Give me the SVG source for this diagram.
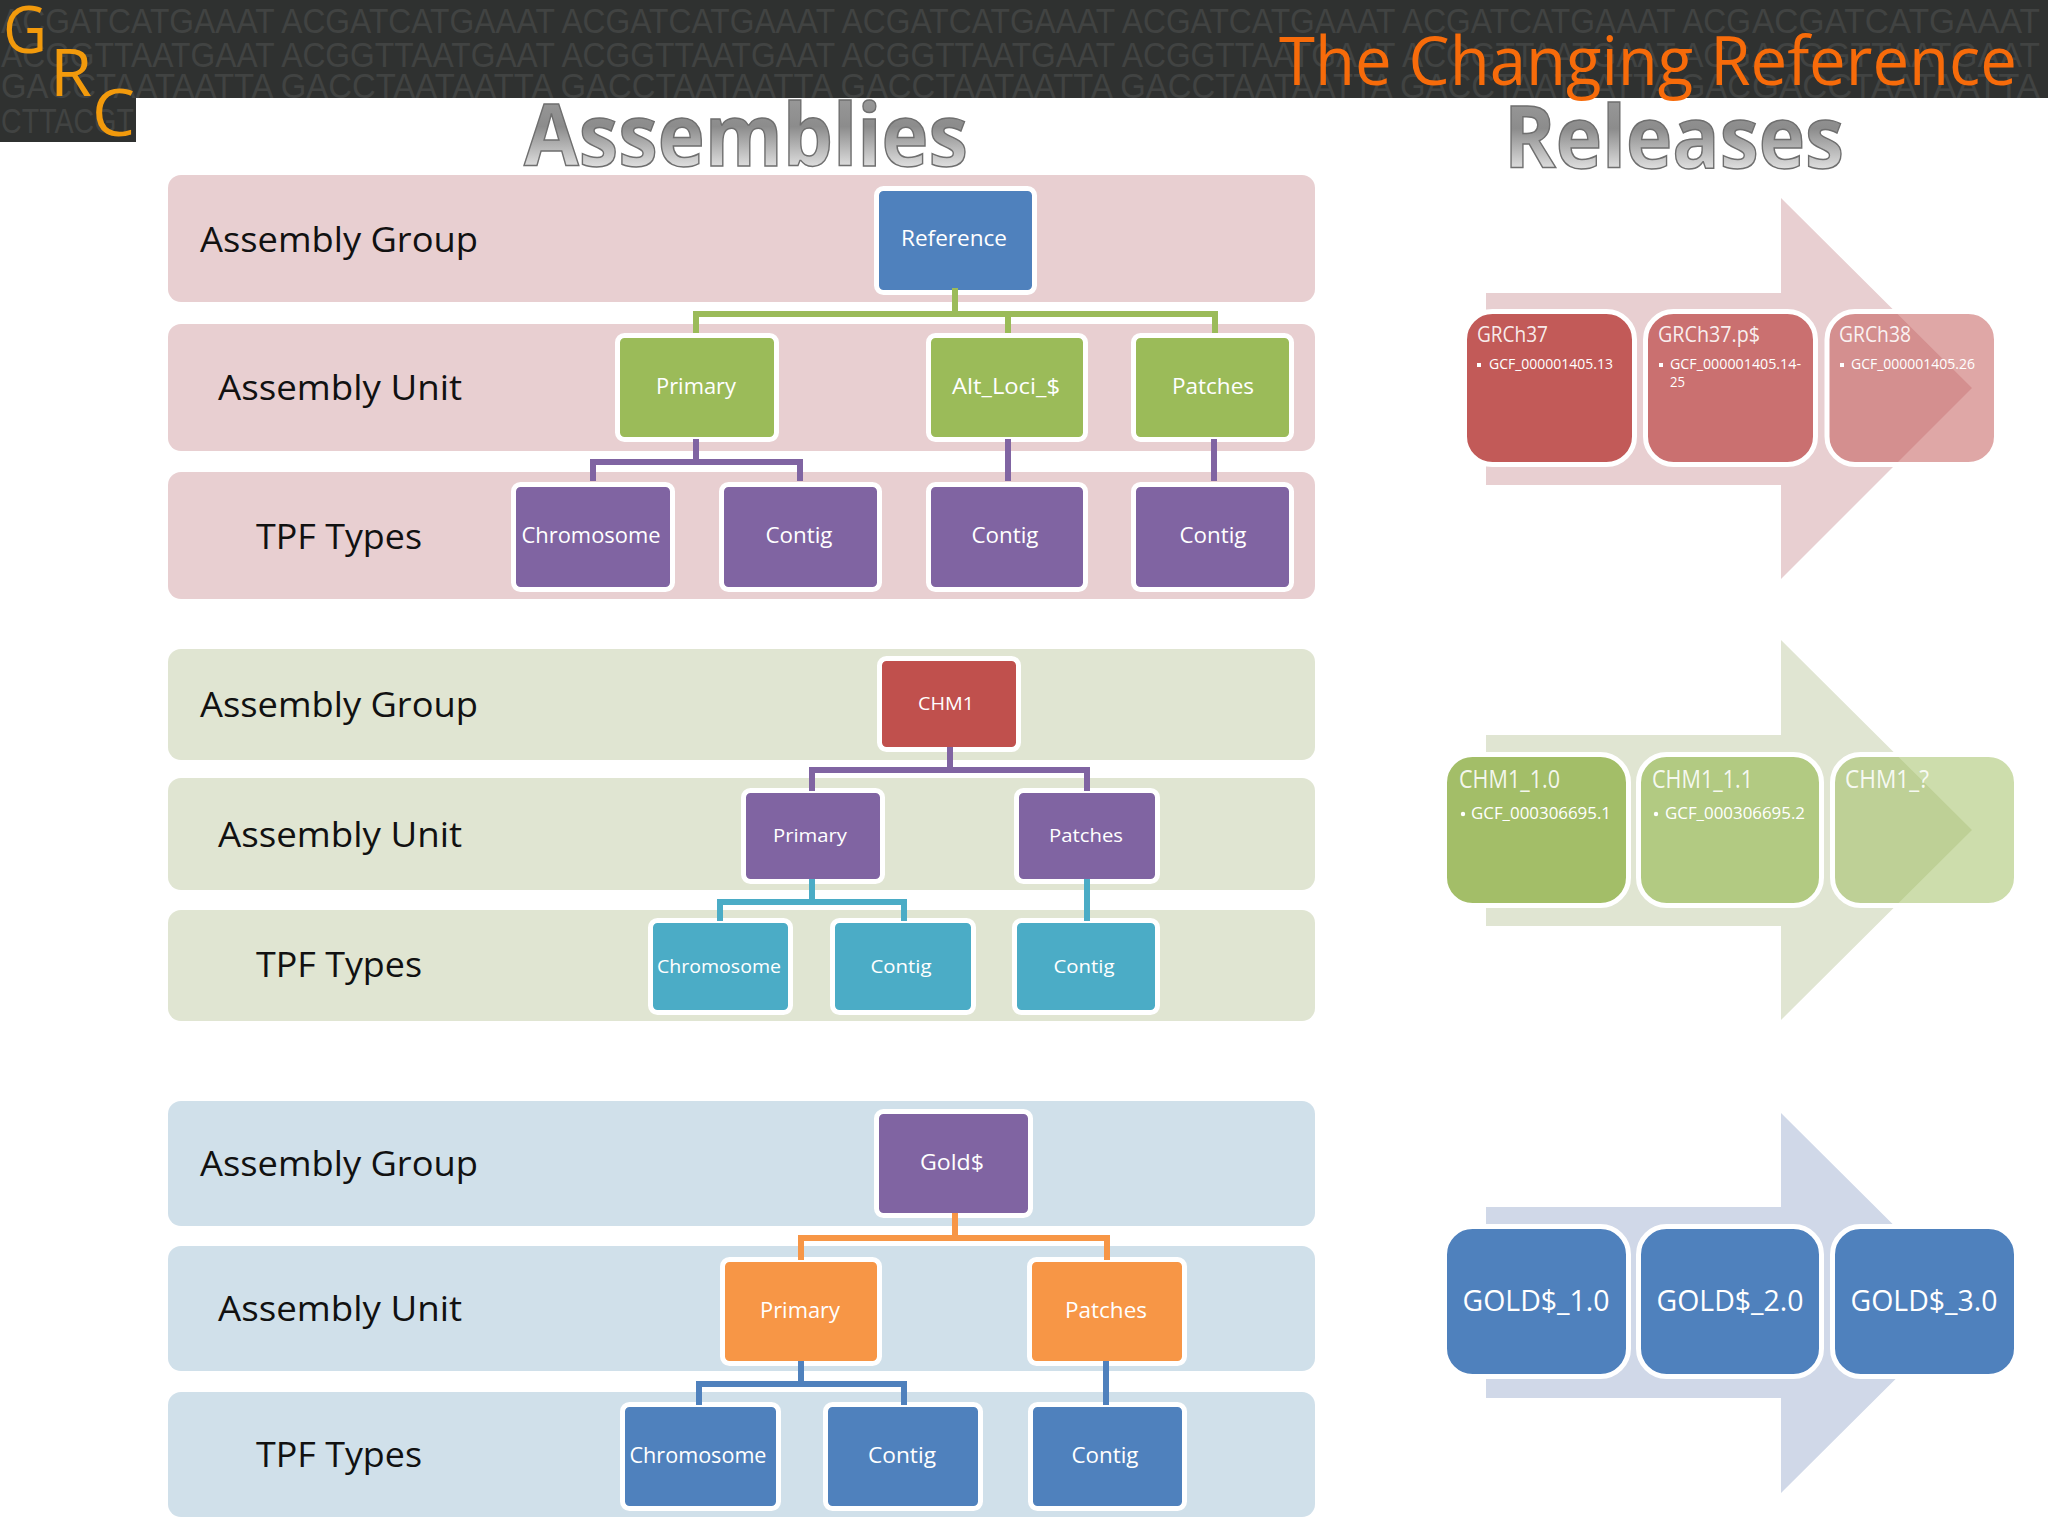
<svg xmlns="http://www.w3.org/2000/svg" width="2048" height="1536" viewBox="0 0 2048 1536">
<defs>
<linearGradient id="chrome" x1="0" y1="0" x2="0" y2="1"><stop offset="0" stop-color="#a2a2a2"/><stop offset="0.45" stop-color="#8c8c8c"/><stop offset="0.8" stop-color="#e0e0e0"/><stop offset="1" stop-color="#f6f6f6"/></linearGradient>
<clipPath id="hdr"><path d="M0 0H2048V98H136V142H0Z"/></clipPath>
</defs>
<style>
text{font-family:"Open Sans","Liberation Sans",sans-serif}
.dna{font-family:"Liberation Sans",Arial,sans-serif;font-size:35px;fill:#414342}
.logo{font-size:66px;fill:#f29a0c}
.title{font-size:68px;fill:#f76b0a}
.big{font-size:86px;font-weight:700;fill:url(#chrome);stroke:#6f6f6f;stroke-width:1.5px}
.band{rx:13px}
.p{fill:#e8cfd1}.g{fill:#e0e5d2}.b{fill:#d0e0ea}
.rl{font-size:35px;fill:#111}
.n{stroke:#fff;stroke-width:5px}
.nt{fill:#fff;font-size:22px;text-anchor:middle}
.nts{fill:#fff;font-size:19px;text-anchor:middle}
.blue{fill:#4f81bd}.green{fill:#9bbb59}.purple{fill:#8064a2}.red{fill:#c0504d}.teal{fill:#4bacc6}.orange{fill:#f79646}
.c{fill:none;stroke-width:6px}
.cg{stroke:#9bbb59}.cp{stroke:#8064a2}.ct{stroke:#4bacc6}.co{stroke:#f79646}.cb{stroke:#4f81bd}
.rel{stroke:#fff;stroke-width:5px}
.rh{fill:#fff;fill-opacity:.9;font-size:21px}
.rs{fill:#fff;font-size:14px}
.rhg{fill:#fff;fill-opacity:.9;font-size:25px}
.rsg{fill:#fff;font-size:17px}
.gold{fill:#fff;font-size:29px;text-anchor:middle}
</style>

<rect width="2048" height="1536" fill="#fff"/>

<g id="header">
<path d="M0 0H2048V98H136V142H0Z" fill="#2f3130"/>
<g clip-path="url(#hdr)">
<text class="dna" x="1" y="33" textLength="1750" lengthAdjust="spacingAndGlyphs">ACGATCATGAAAT ACGATCATGAAAT ACGATCATGAAAT ACGATCATGAAAT ACGATCATGAAAT ACGATCATGAAAT ACG</text>
<text class="dna" x="1752" y="33" textLength="288" lengthAdjust="spacingAndGlyphs">ACGATCATGAAAT</text>
<text class="dna" x="1" y="67" textLength="1750" lengthAdjust="spacingAndGlyphs">ACGGTTAATGAAT ACGGTTAATGAAT ACGGTTAATGAAT ACGGTTAATGAAT ACGGTTAATGAAT ACGGTTAATGAAT ACG</text>
<text class="dna" x="1752" y="67" textLength="288" lengthAdjust="spacingAndGlyphs">ACGGTTAATGAAT</text>
<text class="dna" x="1" y="98" textLength="1750" lengthAdjust="spacingAndGlyphs">GACCTAATAATTA GACCTAATAATTA GACCTAATAATTA GACCTAATAATTA GACCTAATAATTA GACCTAATAATTA GAC</text>
<text class="dna" x="1752" y="98" textLength="288" lengthAdjust="spacingAndGlyphs">GACCTAATAATTA</text>
<text class="dna" x="1" y="133" textLength="133" lengthAdjust="spacingAndGlyphs">CTTACGT</text>
</g>
<text class="logo" x="3" y="53" textLength="44" lengthAdjust="spacingAndGlyphs">G</text>
<text class="logo" x="50" y="96" textLength="42" lengthAdjust="spacingAndGlyphs">R</text>
<text class="logo" x="92" y="136" textLength="43" lengthAdjust="spacingAndGlyphs">C</text>
<text class="title" x="1279" y="85" textLength="738" lengthAdjust="spacingAndGlyphs">The Changing Reference</text>
</g>

<text class="big" x="524" y="166" textLength="444" lengthAdjust="spacingAndGlyphs">Assemblies</text>
<text class="big" x="1504" y="168" textLength="340" lengthAdjust="spacingAndGlyphs">Releases</text>

<g id="bands">
<rect class="band p" x="168" y="175" width="1147" height="127"/>
<rect class="band p" x="168" y="324" width="1147" height="127"/>
<rect class="band p" x="168" y="472" width="1147" height="127"/>
<rect class="band g" x="168" y="649" width="1147" height="111"/>
<rect class="band g" x="168" y="778" width="1147" height="112"/>
<rect class="band g" x="168" y="910" width="1147" height="111"/>
<rect class="band b" x="168" y="1101" width="1147" height="125"/>
<rect class="band b" x="168" y="1246" width="1147" height="125"/>
<rect class="band b" x="168" y="1392" width="1147" height="125"/>
<text class="rl" x="200" y="252" textLength="278" lengthAdjust="spacingAndGlyphs">Assembly Group</text>
<text class="rl" x="218" y="400" textLength="244" lengthAdjust="spacingAndGlyphs">Assembly Unit</text>
<text class="rl" x="256" y="549" textLength="166" lengthAdjust="spacingAndGlyphs">TPF Types</text>
<text class="rl" x="200" y="717" textLength="278" lengthAdjust="spacingAndGlyphs">Assembly Group</text>
<text class="rl" x="218" y="847" textLength="244" lengthAdjust="spacingAndGlyphs">Assembly Unit</text>
<text class="rl" x="256" y="977" textLength="166" lengthAdjust="spacingAndGlyphs">TPF Types</text>
<text class="rl" x="200" y="1176" textLength="278" lengthAdjust="spacingAndGlyphs">Assembly Group</text>
<text class="rl" x="218" y="1321" textLength="244" lengthAdjust="spacingAndGlyphs">Assembly Unit</text>
<text class="rl" x="256" y="1467" textLength="166" lengthAdjust="spacingAndGlyphs">TPF Types</text>
</g>

<g id="n-reference"><rect class="n blue" x="876.500" y="188.500" width="158" height="104" rx="7"/><text class="nt" x="954" y="246" textLength="106" lengthAdjust="spacingAndGlyphs">Reference</text></g>
<g id="n-primary1"><rect class="n green" x="617.500" y="335.500" width="159" height="104" rx="7"/><text class="nt" x="696" y="394" textLength="80" lengthAdjust="spacingAndGlyphs">Primary</text></g>
<g id="n-altloci"><rect class="n green" x="928.500" y="335.500" width="157" height="104" rx="7"/><text class="nt" x="1006" y="394" textLength="108" lengthAdjust="spacingAndGlyphs">Alt_Loci_$</text></g>
<g id="n-patches1"><rect class="n green" x="1133.500" y="335.500" width="158" height="104" rx="7"/><text class="nt" x="1213" y="394" textLength="82" lengthAdjust="spacingAndGlyphs">Patches</text></g>
<g id="n-chrom1"><rect class="n purple" x="513.500" y="484.500" width="159" height="105" rx="7"/><text class="nt" x="591" y="543" textLength="139" lengthAdjust="spacingAndGlyphs">Chromosome</text></g>
<g id="n-contig1a"><rect class="n purple" x="721.500" y="484.500" width="158" height="105" rx="7"/><text class="nt" x="799" y="543" textLength="67" lengthAdjust="spacingAndGlyphs">Contig</text></g>
<g id="n-contig1b"><rect class="n purple" x="928.500" y="484.500" width="157" height="105" rx="7"/><text class="nt" x="1005" y="543" textLength="67" lengthAdjust="spacingAndGlyphs">Contig</text></g>
<g id="n-contig1c"><rect class="n purple" x="1133.500" y="484.500" width="158" height="105" rx="7"/><text class="nt" x="1213" y="543" textLength="67" lengthAdjust="spacingAndGlyphs">Contig</text></g>

<g id="n-chm1"><rect class="n red" x="879.500" y="658.500" width="139" height="91" rx="7"/><text class="nts" x="946" y="710" textLength="56" lengthAdjust="spacingAndGlyphs">CHM1</text></g>
<g id="n-primary2"><rect class="n purple" x="743.500" y="790.500" width="139" height="91" rx="7"/><text class="nts" x="810" y="842" textLength="74" lengthAdjust="spacingAndGlyphs">Primary</text></g>
<g id="n-patches2"><rect class="n purple" x="1016.500" y="790.500" width="141" height="91" rx="7"/><text class="nts" x="1086" y="842" textLength="74" lengthAdjust="spacingAndGlyphs">Patches</text></g>
<g id="n-chrom2"><rect class="n teal" x="650.500" y="920.500" width="140" height="92" rx="7"/><text class="nts" x="719" y="973" textLength="124" lengthAdjust="spacingAndGlyphs">Chromosome</text></g>
<g id="n-contig2a"><rect class="n teal" x="832.500" y="920.500" width="141" height="92" rx="7"/><text class="nts" x="901" y="973" textLength="61" lengthAdjust="spacingAndGlyphs">Contig</text></g>
<g id="n-contig2b"><rect class="n teal" x="1014.500" y="920.500" width="143" height="92" rx="7"/><text class="nts" x="1084" y="973" textLength="61" lengthAdjust="spacingAndGlyphs">Contig</text></g>

<g id="n-gold"><rect class="n purple" x="876.500" y="1111.500" width="154" height="104" rx="7"/><text class="nt" x="952" y="1170" textLength="64" lengthAdjust="spacingAndGlyphs">Gold$</text></g>
<g id="n-primary3"><rect class="n orange" x="722.500" y="1259.500" width="157" height="104" rx="7"/><text class="nt" x="800" y="1318" textLength="80" lengthAdjust="spacingAndGlyphs">Primary</text></g>
<g id="n-patches3"><rect class="n orange" x="1029.500" y="1259.500" width="155" height="104" rx="7"/><text class="nt" x="1106" y="1318" textLength="82" lengthAdjust="spacingAndGlyphs">Patches</text></g>
<g id="n-chrom3"><rect class="n blue" x="622.500" y="1404.500" width="156" height="104" rx="7"/><text class="nt" x="698" y="1463" textLength="137" lengthAdjust="spacingAndGlyphs">Chromosome</text></g>
<g id="n-contig3a"><rect class="n blue" x="825.500" y="1404.500" width="155" height="104" rx="7"/><text class="nt" x="902" y="1463" textLength="68" lengthAdjust="spacingAndGlyphs">Contig</text></g>
<g id="n-contig3b"><rect class="n blue" x="1030.500" y="1404.500" width="154" height="104" rx="7"/><text class="nt" x="1105" y="1463" textLength="67" lengthAdjust="spacingAndGlyphs">Contig</text></g>

<g id="connectors">
<path class="c cg" d="M955 288V314M696 333V314H1215V333M1008 314V333"/>
<path class="c cp" d="M696 439V462M593 481V462H800V481M1008 439V481M1214 439V481"/>
<path class="c cp" d="M950 747V770M812 791V770H1087V791"/>
<path class="c ct" d="M812 879V902M720 921V902H904V921M1087 879V921"/>
<path class="c co" d="M955 1213V1238M801 1260V1238H1107V1260"/>
<path class="c cb" d="M801 1361V1384M699 1405V1384H904V1405M1106 1361V1405"/>
</g>

<g id="release-arrows">
<path fill="#e8cfd1" d="M1486 293H1781V198L1972 388L1781 579V485H1486Z"/>
<path fill="#e0e5d2" d="M1486 735H1781V640L1972 830L1781 1020V926H1486Z"/>
<path fill="#d0d8e8" d="M1486 1207H1781V1113L1972 1303L1781 1493V1398H1486Z"/>
</g>

<g id="r-grch37"><rect class="rel" x="1464.500" y="311.500" width="170" height="153" rx="28" fill="#c25a58"/><text class="rh" x="1477" y="342" textLength="71" lengthAdjust="spacingAndGlyphs">GRCh37</text><rect x="1477" y="363" width="4" height="4" fill="#fff"/><text class="rs" x="1489" y="369" textLength="124" lengthAdjust="spacingAndGlyphs">GCF_000001405.13</text></g>
<g id="r-grch37p"><rect class="rel" x="1645.500" y="311.500" width="170" height="153" rx="28" fill="#ca7070"/><text class="rh" x="1658" y="342" textLength="102" lengthAdjust="spacingAndGlyphs">GRCh37.p$</text><rect x="1659" y="363" width="4" height="4" fill="#fff"/><text class="rs" x="1670" y="369" textLength="131" lengthAdjust="spacingAndGlyphs">GCF_000001405.14-</text><text class="rs" x="1670" y="387" textLength="15" lengthAdjust="spacingAndGlyphs">25</text></g>
<g id="r-grch38"><rect class="rel" x="1827" y="311.500" width="169.500" height="153" rx="28" fill="#c0504d" fill-opacity=".5"/><text class="rh" x="1839" y="342" textLength="72" lengthAdjust="spacingAndGlyphs">GRCh38</text><rect x="1840" y="363" width="4" height="4" fill="#fff"/><text class="rs" x="1851" y="369" textLength="124" lengthAdjust="spacingAndGlyphs">GCF_000001405.26</text></g>

<g id="r-chm10"><rect class="rel" x="1444.500" y="754.500" width="184" height="151" rx="28" fill="#a3be68"/><text class="rhg" x="1459" y="788" textLength="101" lengthAdjust="spacingAndGlyphs">CHM1_1.0</text><circle cx="1463" cy="814" r="2.200" fill="#fff"/><text class="rsg" x="1471" y="819" textLength="140" lengthAdjust="spacingAndGlyphs">GCF_000306695.1</text></g>
<g id="r-chm11"><rect class="rel" x="1638.500" y="754.500" width="183" height="151" rx="28" fill="#b2ca82"/><text class="rhg" x="1652" y="788" textLength="101" lengthAdjust="spacingAndGlyphs">CHM1_1.1</text><circle cx="1656" cy="814" r="2.200" fill="#fff"/><text class="rsg" x="1665" y="819" textLength="140" lengthAdjust="spacingAndGlyphs">GCF_000306695.2</text></g>
<g id="r-chm1q"><rect class="rel" x="1832.500" y="754.500" width="184" height="151" rx="28" fill="#9bbb59" fill-opacity=".5"/><text class="rhg" x="1845" y="788" textLength="84" lengthAdjust="spacingAndGlyphs">CHM1_?</text></g>

<g id="r-gold1"><rect class="rel" x="1444.500" y="1226.500" width="184" height="150" rx="28" fill="#4f81bd"/><text class="gold" x="1536" y="1311" textLength="147" lengthAdjust="spacingAndGlyphs">GOLD$_1.0</text></g>
<g id="r-gold2"><rect class="rel" x="1638.500" y="1226.500" width="183" height="150" rx="28" fill="#4f81bd"/><text class="gold" x="1730" y="1311" textLength="147" lengthAdjust="spacingAndGlyphs">GOLD$_2.0</text></g>
<g id="r-gold3"><rect class="rel" x="1832.500" y="1226.500" width="184" height="150" rx="28" fill="#4f81bd"/><text class="gold" x="1924" y="1311" textLength="147" lengthAdjust="spacingAndGlyphs">GOLD$_3.0</text></g>
</svg>
